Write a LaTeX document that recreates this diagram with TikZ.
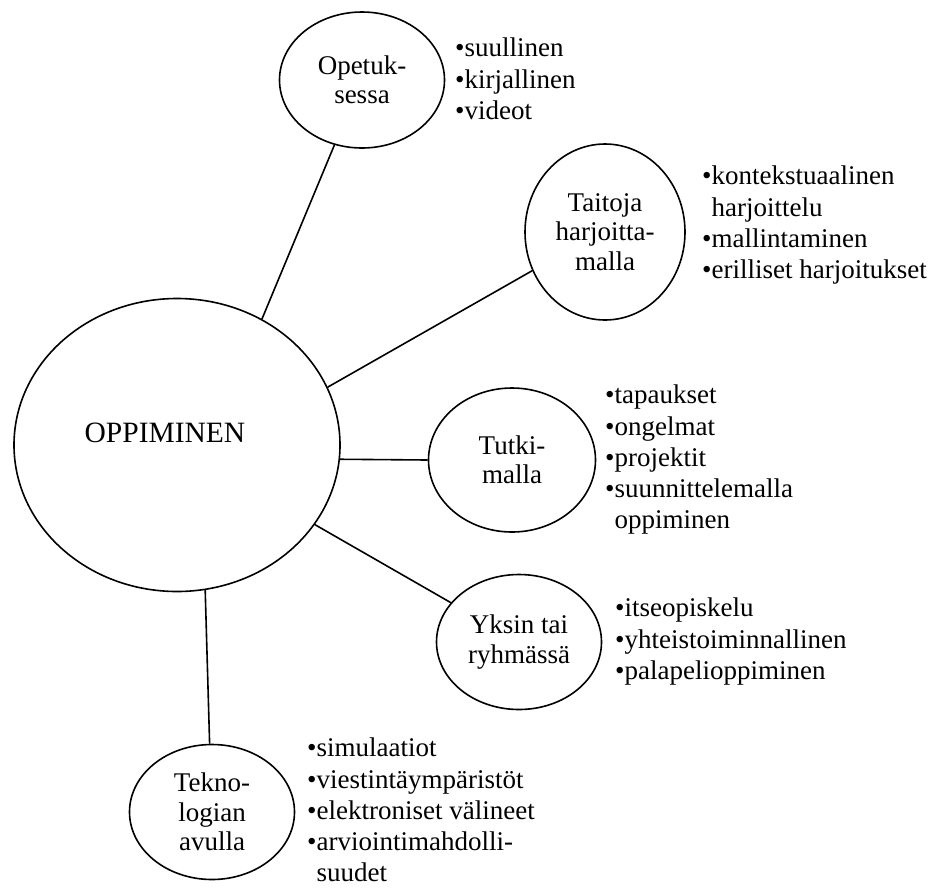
\documentclass[tikz,border=0pt]{standalone}
\usepackage{fontspec}
\setmainfont{Liberation Serif}
\usepackage{tikz}
\usetikzlibrary{shapes.geometric}

\begin{document}
\begin{tikzpicture}[x=1pt,y=-1pt,
    txt/.style={font=\fontsize{27}{29.5}\selectfont},
    oval/.style={draw,ellipse,line width=1.6pt,inner sep=0pt,align=center,txt},
    list/.style={anchor=north west,inner sep=0pt,align=left,font=\fontsize{27}{31.2}\selectfont},
    link/.style={line width=1.6pt}]
    \useasboundingbox (0,0) rectangle (932,887);
    \node[oval,minimum width=326,minimum height=293] (opp) at (177,445) {};
    \node[font=\fontsize{29.5}{32}\selectfont] (opptxt) at (165,433) {OPPIMINEN};
    \node[oval,minimum width=165,minimum height=136] (opet) at (362,80) {Opetuk-\\sessa};
    \node[oval,minimum width=160,minimum height=176] (tait) at (605,232) {Taitoja\\harjoitta-\\malla};
    \node[oval,minimum width=167,minimum height=144] (tut) at (512,460) {Tutki-\\malla};
    \node[oval,minimum width=165,minimum height=135] (yks) at (519,642) {Yksin tai\\ryhmässä};
    \node[oval,minimum width=165,minimum height=135] (tek) at (212,812) {Tekno-\\logian\\avulla};
    \node[list] (opetlist) at (455,38) {•suullinen\\•kirjallinen\\•videot};
    \node[list] (taitlist) at (702,166) {•kontekstuaalinen\\\hphantom{•}harjoittelu\\•mallintaminen\\•erilliset harjoitukset};
    \node[list] (tutlist) at (605,385) {•tapaukset\\•ongelmat\\•projektit\\•suunnittelemalla\\\hphantom{•}oppiminen};
    \node[list] (ykslist) at (615,598) {•itseopiskelu\\•yhteistoiminnallinen\\•palapelioppiminen};
    \node[list] (teklist) at (307,738) {•simulaatiot\\•viestintäympäristöt\\•elektroniset välineet\\•arviointimahdolli-\\\hphantom{•}suudet};
    \draw[link] (opp.56.5) -- (opet.247);
    \draw[link] (opp.21.5) -- (tait.208);
    \draw[link] (opp.-5) -- (tut.west);
    \draw[link] (opp.-30) -- (yks.150);
    \draw[link] (opp.-79) -- (tek.92);
\end{tikzpicture}
\end{document}
